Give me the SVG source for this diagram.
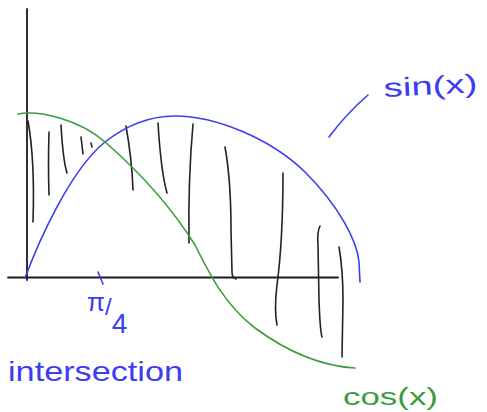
<svg xmlns="http://www.w3.org/2000/svg" width="487" height="412" viewBox="0 0 487 412">
  <style>
    .ax{fill:none;stroke:#1a1a1a;stroke-width:1.8;stroke-linecap:round}
    .h{fill:none;stroke:#222;stroke-width:1.6;stroke-linecap:round;stroke-linejoin:round}
    .b{fill:none;stroke:#3c3cf2;stroke-width:1.6;stroke-linecap:round;stroke-linejoin:round}
    .g{fill:none;stroke:#3c9c3c;stroke-width:1.6;stroke-linecap:round;stroke-linejoin:round}
    .tb{font-family:"Liberation Sans",Arial,sans-serif;fill:#3c3cf2}
    .tg{font-family:"Liberation Sans",Arial,sans-serif;fill:#3c9c3c}
  </style>
  <rect width="487" height="412" fill="#ffffff"/>
  <g id="axes">
    <path class="ax" d="M27,9 L27,280"/>
    <path class="ax" d="M8,277.5 L338,277.5"/>
  </g>
  <g id="hatching">
    <path class="h" d="M28,121 Q35,160 33,222"/>
    <path class="h" d="M49,132 Q48,165 49,195"/>
    <path class="h" d="M61,125 Q63,160 67,173"/>
    <path class="h" d="M81,137 L83,154"/>
    <path class="h" d="M91,143 L92,147"/>
    <path class="h" d="M126,126 Q132,160 133,190"/>
    <path class="h" d="M158,123 Q161,172 167,193"/>
    <path class="h" d="M193,124 Q188,180 189,243"/>
    <path class="h" d="M225,147 Q231,180 231,230 L232,272 Q232,278 236,279"/>
    <path class="h" d="M283,173 Q283,240 277,285 Q274,310 277,325"/>
    <path class="h" d="M320,226 Q317,232 318,245 L319,300 Q320,330 322,337"/>
    <path class="h" d="M339,247 Q343,270 343,300 L342,357"/>
  </g>
  <g id="sin-curve">
    <path class="b" d="M25,278 C38,243 70,170 105,142 C128,124 150,116 175,116 C215,116 270,138 305,172 C338,205 357,240 359,262 L360,282"/>
  </g>
  <g id="cos-curve">
    <path class="g" d="M18,114 C40,110 80,120 105,142 C135,168 170,205 195,245 C210,275 225,305 255,328 C285,350 320,366 355,368"/>
  </g>
  <g id="tick">
    <path class="b" d="M98,272 L103,284"/>
  </g>
  <g id="sin-label">
    <path class="b" d="M329,137 Q347,113 368,95"/>
    <text class="tb" x="384" y="97" font-size="26" textLength="94" lengthAdjust="spacingAndGlyphs" transform="rotate(-3 384 97)">sin(x)</text>
  </g>
  <g id="pi4-label">
    <text class="tb" x="87" y="311" font-size="26">π<tspan font-size="24" dy="4">/</tspan><tspan font-size="28" dy="18">4</tspan></text>
  </g>
  <g id="intersection-label">
    <text class="tb" x="8" y="381" font-size="28" textLength="175" lengthAdjust="spacingAndGlyphs">intersection</text>
  </g>
  <g id="cos-label">
    <text class="tg" x="343" y="405" font-size="23" textLength="95" lengthAdjust="spacingAndGlyphs">cos(x)</text>
  </g>
</svg>
